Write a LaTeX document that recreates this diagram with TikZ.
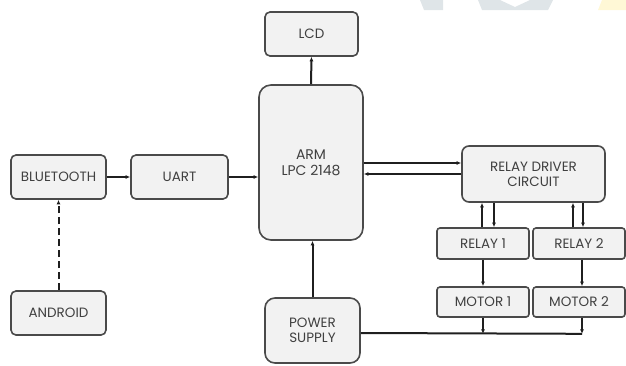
\documentclass[tikz,border=0pt]{standalone}
\usepackage{fontspec}
\setmainfont{Poppins}
\usetikzlibrary{arrows.meta,calc}
\definecolor{boxfill}{HTML}{F2F2F2}
\definecolor{boxline}{HTML}{4A4A4A}
\definecolor{txt}{HTML}{404040}
\definecolor{wmblue}{HTML}{DFE5E8}
\definecolor{wmyel}{HTML}{FFF8D6}
\tikzset{
  blk/.style={draw=boxline, line width=1.6pt, fill=boxfill, rounded corners=5pt,
    inner sep=0pt, align=center, text=txt, font=\fontsize{13.5}{15}\selectfont},
  arr/.style={draw=black!88, line width=2pt, -{Latex[length=4.5pt,width=4pt]}},
}
\begin{document}
\begin{tikzpicture}[x=1pt,y=-1pt]
\useasboundingbox (0,0) rectangle (626,365);
% faint watermark at the top edge
\fill[wmblue] (420,0) -- (443,0) -- (443,10) -- (424,10) -- cycle;
\fill[wmblue] (478,0) -- (500,0) -- (515,7) -- (530,0) -- (553,0) -- (548,10) -- (482,10) -- cycle;
\fill[wmyel] (602,0) -- (626,0) -- (626,10) -- (598,10) -- cycle;
% blocks
\node[blk, minimum width=93pt, minimum height=44pt] (lcd) at (311.5,34) {LCD};
\node[blk, minimum width=104pt, minimum height=155pt, rounded corners=12pt] (arm) at (311,162.5) {};
\node[text=txt, font=\fontsize{14}{16}\selectfont, align=center] (armt) at (311,163) {ARM\\LPC 2148};
\node[blk, minimum width=95pt, minimum height=44pt] (bt) at (58.5,177) {BLUETOOTH};
\node[blk, minimum width=97pt, minimum height=44pt] (uart) at (179.5,177) {UART};
\node[blk, minimum width=95pt, minimum height=44pt] (andr) at (58.5,313) {ANDROID};
\node[blk, minimum width=95pt, minimum height=65pt, rounded corners=10pt] (ps) at (312.5,330.5) {POWER\\SUPPLY};
\node[blk, minimum width=143pt, minimum height=56pt, rounded corners=7pt] (drv) at (533.5,174) {RELAY DRIVER\\CIRCUIT};
\node[blk, minimum width=92pt, minimum height=31pt, rounded corners=3pt] (r1) at (483,243.5) {RELAY 1};
\node[blk, minimum width=92pt, minimum height=31pt, rounded corners=3pt] (r2) at (579,243.5) {RELAY 2};
\node[blk, minimum width=92pt, minimum height=30pt, rounded corners=3pt] (m1) at (483,302) {MOTOR 1};
\node[blk, minimum width=92pt, minimum height=30pt, rounded corners=3pt] (m2) at (579,302) {MOTOR 2};
% connectors
\draw[arr] (arm.north) -- (lcd.south);
\draw[arr] (bt.east) -- (uart.west);
\draw[arr] (uart.east) -- (uart.east -| arm.west);
\draw[arr, dash pattern=on 7pt off 4pt] (andr.north) -- (bt.south);
\draw[arr] ([yshift=11pt]drv.west -| arm.east) -- ([yshift=11pt]drv.west);
\draw[arr] (drv.west) -- (drv.west -| arm.east);
\draw[arr] ([xshift=-1pt]r1.north) -- ([xshift=-1pt]r1.north |- drv.south);
\draw[arr] ([xshift=11pt]r1.north |- drv.south) -- ([xshift=11pt]r1.north);
\draw[arr] ([xshift=-6pt]r2.north) -- ([xshift=-6pt]r2.north |- drv.south);
\draw[arr] ([xshift=4pt]r2.north |- drv.south) -- ([xshift=4pt]r2.north);
\draw[arr] (r1.south) -- (m1.north);
\draw[arr] ([xshift=3pt]r2.south) -- ([xshift=3pt]m2.north);
\draw[arr] (ps.north) -- (ps.north |- arm.south);
\coordinate (j1) at ($(m1.south)+(0,16)$);
\coordinate (j2) at ($([xshift=3pt]m2.south)+(0,16)$);
\draw[draw=black!88, line width=2pt] ([yshift=-2.5pt]ps.east) -- (j2);
\draw[arr] (m1.south) -- (j1);
\draw[arr] ([xshift=3pt]m2.south) -- (j2);
\end{tikzpicture}
\end{document}
